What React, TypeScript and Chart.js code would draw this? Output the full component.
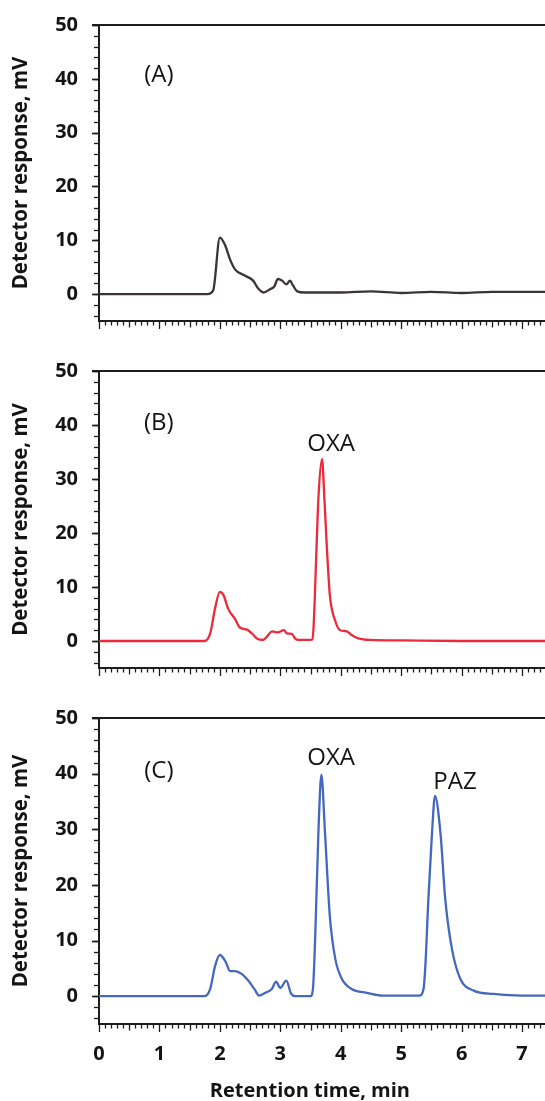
import React, { useEffect, useRef } from 'react';
import Chart from 'chart.js/auto';

const FONT = '"Open Sans", "DejaVu Sans", sans-serif';
const AXIS = '#1c1c1c';
const TEXT = '#141414';

// Retention time axis
const X_MIN = 0;
const X_MAX = 7.38;
const Y_MIN = -5;
const Y_MAX = 50;
const xTickValues = [0, 1, 2, 3, 4, 5, 6, 7];
const yTickValues = [0, 10, 20, 30, 40, 50];

// (A) blank
const timeA = [0, 1.8, 1.89, 2.0, 2.09, 2.17, 2.25, 2.42, 2.55, 2.63, 2.72, 2.83, 2.9, 2.96, 3.03, 3.1, 3.16, 3.21, 3.28, 3.4, 4.0, 4.5, 5.0, 5.5, 6.0, 6.5, 7.0, 7.5];
const respA = [0, 0, 0.7, 10.5, 9.0, 6.4, 4.6, 3.4, 2.5, 1.1, 0.3, 0.9, 1.4, 2.8, 2.5, 1.8, 2.5, 1.6, 0.5, 0.3, 0.3, 0.5, 0.2, 0.4, 0.2, 0.4, 0.4, 0.4];

// (B) OXA
const timeB = [0, 1.75, 1.84, 1.92, 2.0, 2.06, 2.14, 2.25, 2.33, 2.45, 2.53, 2.62, 2.71, 2.8, 2.86, 2.96, 3.06, 3.11, 3.19, 3.25, 3.3, 3.5, 3.53, 3.55, 3.6, 3.63, 3.69, 3.73, 3.77, 3.82, 3.91, 3.99, 4.1, 4.18, 4.29, 4.49, 5.0, 6.0, 7.0, 7.5];
const respB = [0, 0, 1.4, 6.0, 9.1, 8.5, 5.9, 4.1, 2.5, 2.1, 1.4, 0.4, 0.2, 1.1, 1.8, 1.6, 2.0, 1.4, 1.3, 0.4, 0.2, 0.2, 0.3, 2.5, 17.4, 26.3, 33.7, 26.3, 17.4, 8.5, 3.7, 2.0, 1.8, 1.1, 0.5, 0.2, 0.1, 0, 0, 0];

// (C) OXA + PAZ
const timeC = [0, 1.75, 1.84, 1.92, 2.0, 2.09, 2.17, 2.25, 2.36, 2.47, 2.57, 2.65, 2.75, 2.86, 2.93, 3.0, 3.1, 3.18, 3.25, 3.5, 3.54, 3.58, 3.63, 3.68, 3.74, 3.82, 3.91, 4.02, 4.18, 4.43, 4.7, 5.3, 5.37, 5.4, 5.45, 5.51, 5.56, 5.65, 5.73, 5.84, 5.98, 6.2, 6.53, 7.0, 7.5];
const respC = [0, 0, 1.3, 5.4, 7.4, 6.3, 4.5, 4.5, 4.0, 2.8, 1.3, 0.1, 0.6, 1.3, 2.6, 1.5, 2.8, 0.4, 0, 0, 1.3, 11.5, 29.3, 39.8, 29.3, 14.3, 6.7, 3.1, 1.3, 0.6, 0.1, 0.1, 1.3, 5.4, 17.4, 29.3, 36.0, 29.3, 17.4, 8.5, 3.1, 1.0, 0.4, 0.1, 0.1];

// Text annotations
const panelNames = ['(A)', '(B)', '(C)'];
const panelNameX = [0.99, 0.99, 0.99];
const panelNameY = [40.7, 40.4, 40.5];
const peakNamesB = ['OXA'];
const peakXB = [3.84];
const peakYB = [36.5];
const peakNamesC = ['OXA', 'PAZ'];
const peakXC = [3.84, 5.89];
const peakYC = [42.8, 38.5];

const Y_TITLE = 'Detector response, mV';
const X_TITLE = 'Retention time, min';
const X_TITLE_AT = 3.49;

const decor = {
  id: 'decor',
  afterDraw(chart: any) {
    const { ctx, chartArea, scales } = chart;
    const xs = scales.x;
    const ys = scales.y;
    const o = chart.options.plugins.decor;
    ctx.save();
    ctx.strokeStyle = AXIS;
    ctx.lineWidth = 2;
    // top frame line
    ctx.beginPath();
    ctx.moveTo(chartArea.left - 7, chartArea.top);
    ctx.lineTo(chartArea.right, chartArea.top);
    ctx.stroke();
    // x tick marks
    ctx.lineWidth = 1.3;
    const nx = Math.floor(X_MAX * 10 + 1e-6);
    for (let i = 0; i <= nx; i++) {
      const px = Math.round(xs.getPixelForValue(i / 10)) + 0.5;
      const len = i % 10 === 0 ? 8 : i % 5 === 0 ? 6.5 : 4.5;
      ctx.beginPath();
      ctx.moveTo(px, chartArea.bottom);
      ctx.lineTo(px, chartArea.bottom + len);
      ctx.stroke();
    }
    // y tick marks
    for (let v = Y_MIN + 1; v <= Y_MAX; v += 2) {
      const py = Math.round(ys.getPixelForValue(v)) + 0.5;
      ctx.beginPath();
      ctx.moveTo(chartArea.left, py);
      ctx.lineTo(chartArea.left - 5, py);
      ctx.stroke();
    }
    ctx.lineWidth = 1.6;
    for (const v of yTickValues) {
      const py = Math.round(ys.getPixelForValue(v)) + 0.5;
      ctx.beginPath();
      ctx.moveTo(chartArea.left, py);
      ctx.lineTo(chartArea.left - 7, py);
      ctx.stroke();
    }
    // annotations
    ctx.fillStyle = TEXT;
    ctx.textAlign = 'center';
    ctx.textBaseline = 'middle';
    ctx.font = `24px ${FONT}`;
    (o.names || []).forEach((t: string, i: number) => {
      ctx.fillText(t, xs.getPixelForValue(o.nx[i]), ys.getPixelForValue(o.ny[i]));
    });
    if (o.xTitle) {
      ctx.font = `bold 20px ${FONT}`;
      ctx.fillText(o.xTitle, xs.getPixelForValue(X_TITLE_AT), chartArea.bottom + 67);
    }
    ctx.restore();
  },
};

function makeConfig(time: number[], resp: number[], color: string, showX: boolean, names: string[], nx: number[], ny: number[], xHeight: number): any {
  return {
    type: 'line',
    data: {
      datasets: [
        {
          data: time.map((t, i) => ({ x: t, y: resp[i] })),
          borderColor: color,
          borderWidth: 2.3,
          pointRadius: 0,
          cubicInterpolationMode: 'monotone',
          fill: false,
        },
      ],
    },
    options: {
      animation: false,
      responsive: false,
      devicePixelRatio: 1,
      layout: { padding: { top: 23, right: 0, left: 0, bottom: 0 } },
      plugins: {
        legend: { display: false },
        tooltip: { enabled: false },
        decor: { names, nx, ny, xTitle: showX ? X_TITLE : '' },
      },
      scales: {
        x: {
          type: 'linear',
          min: X_MIN,
          max: X_MAX,
          grid: { display: false },
          border: { display: true, color: AXIS, width: 2 },
          ticks: { display: showX, font: { family: FONT, size: 20, weight: 'bold' }, color: TEXT, padding: 10 },
          afterBuildTicks: (s: any) => {
            s.ticks = xTickValues.map((v) => ({ value: v }));
          },
          afterFit: (s: any) => {
            s.height = xHeight;
          },
        },
        y: {
          type: 'linear',
          min: Y_MIN,
          max: Y_MAX,
          grid: { display: false },
          border: { display: true, color: AXIS, width: 2 },
          ticks: { font: { family: FONT, size: 20, weight: 'bold' }, color: TEXT, padding: 13 },
          afterBuildTicks: (s: any) => {
            s.ticks = yTickValues.map((v) => ({ value: v }));
          },
          afterFit: (s: any) => {
            s.width = 99;
          },
          title: {
            display: true,
            text: Y_TITLE,
            font: { family: FONT, size: 20.5, weight: 'bold' },
            color: TEXT,
            padding: { top: 9, bottom: 0 },
          },
        },
      },
    },
    plugins: [decor],
  };
}

export default function App() {
  const refA = useRef<HTMLCanvasElement>(null);
  const refB = useRef<HTMLCanvasElement>(null);
  const refC = useRef<HTMLCanvasElement>(null);

  useEffect(() => {
    const charts = [
      new Chart(refA.current!, makeConfig(timeA, respA, '#3b3434', false, [panelNames[0]], [panelNameX[0]], [panelNameY[0]], 15)),
      new Chart(refB.current!, makeConfig(timeB, respB, '#ec2a3c', false, [panelNames[1], ...peakNamesB], [panelNameX[1], ...peakXB], [panelNameY[1], ...peakYB], 15)),
      new Chart(refC.current!, makeConfig(timeC, respC, '#4468bd', true, [panelNames[2], ...peakNamesC], [panelNameX[2], ...peakXC], [panelNameY[2], ...peakYC], 77)),
    ];
    return () => charts.forEach((c) => c.destroy());
  }, []);

  return (
    <div style={{ position: 'absolute', left: 0, top: 0, width: 545, height: 1101, background: '#fff' }}>
      <canvas ref={refA} width={545} height={346} style={{ position: 'absolute', left: 0, top: 0 }} />
      <canvas ref={refB} width={545} height={347} style={{ position: 'absolute', left: 0, top: 346 }} />
      <canvas ref={refC} width={545} height={408} style={{ position: 'absolute', left: 0, top: 693 }} />
    </div>
  );
}
